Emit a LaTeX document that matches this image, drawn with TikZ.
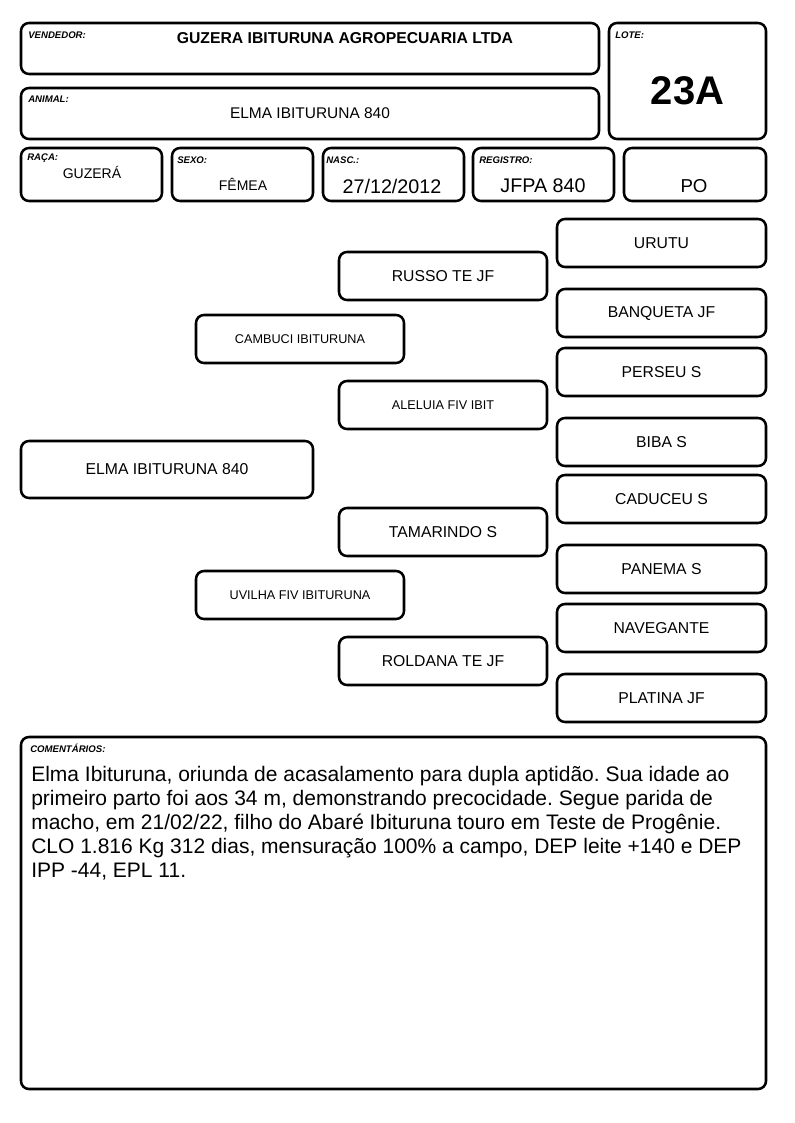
\documentclass[tikz,border=0pt]{standalone}
\usepackage{fontspec}
\setmainfont{Liberation Sans}
\frenchspacing
\newcommand{\mybox}[6]{\node[#1, minimum width={(#4-#2)*0.75pt}, minimum height={(#5-#3)*0.75pt}] (#6) at ({(#2+#4)/2},{(#3+#5)/2})}
\tikzset{
  frame/.style={draw, line width=1.9pt, rounded corners=6pt, inner sep=0pt},
  lbl/.style={anchor=west, inner sep=0pt, font=\fontsize{7.2}{8}\selectfont\bfseries\itshape},
  ped/.style={frame, font=\fontsize{11.8}{14}\selectfont},
  peds/.style={frame, font=\fontsize{9.5}{11}\selectfont},
  val/.style={inner sep=0pt},
  cline/.style={anchor=base west, inner sep=0pt, font=\fontsize{15.75}{18}\selectfont}
}
\begin{document}
\begin{tikzpicture}[x=0.75pt,y=-0.75pt]
\useasboundingbox (0,0) rectangle (794,1123);
% header
\mybox{frame}{21}{23}{599}{74}{vend}{};
\node[lbl] (vendl) at (28,35) {VENDEDOR:};
\node[val, font=\fontsize{11.8}{13}\selectfont\bfseries] (vendv) at (345,38) {GUZERA IBITURUNA AGROPECUARIA LTDA};
\mybox{frame}{21}{88}{599}{139}{anim}{};
\node[lbl] (animl) at (28,99) {ANIMAL:};
\node[val, font=\fontsize{11.6}{14}\selectfont] (animv) at (310,113) {ELMA IBITURUNA 840};
\mybox{frame}{609}{23}{766}{139}{lote}{};
\node[lbl] (lotel) at (615,35) {LOTE:};
\node[val, font=\fontsize{30}{34}\selectfont\bfseries] (lotev) at (687.5,91) {23A};
% row 3
\mybox{frame}{21}{148}{162}{201}{raca}{};
\node[lbl] (racal) at (27,158) {RAÇA:};
\node[val, font=\fontsize{10.5}{12}\selectfont] (racav) at (92,172) {GUZERÁ};
\mybox{frame}{172}{148}{313}{201}{sexo}{};
\node[lbl] (sexol) at (177,160) {SEXO:};
\node[val, font=\fontsize{10.5}{12}\selectfont] (sexov) at (243,184) {FÊMEA};
\mybox{frame}{323}{148}{464}{201}{nasc}{};
\node[lbl] (nascl) at (326,160) {NASC.:};
\node[val, font=\fontsize{14.8}{16}\selectfont] (nascv) at (392,186) {27/12/2012};
\mybox{frame}{473}{148}{614}{201}{reg}{};
\node[lbl] (regl) at (479,160) {REGISTRO:};
\node[val, font=\fontsize{14.8}{16}\selectfont] (regv) at (543,186) {JFPA 840};
\mybox{frame}{624}{148}{766}{201}{po}{};
\node[val, font=\fontsize{14}{16}\selectfont] (pov) at (694,186) {PO};
% pedigree
\mybox{ped}{557}{219}{766}{267}{urutu}{URUTU};
\mybox{ped}{339}{252}{547}{300}{russo}{RUSSO TE JF};
\mybox{ped}{557}{289}{766}{337}{banq}{BANQUETA JF};
\mybox{peds}{196}{315}{404}{363}{camb}{CAMBUCI IBITURUNA};
\mybox{ped}{557}{348}{766}{396}{perseu}{PERSEU S};
\mybox{peds}{339}{381}{547}{429}{aleluia}{ALELUIA FIV IBIT};
\mybox{ped}{557}{418}{766}{466}{biba}{BIBA S};
\mybox{ped}{21}{441}{313}{498}{elma}{ELMA IBITURUNA 840};
\mybox{ped}{557}{475}{766}{523}{caduceu}{CADUCEU S};
\mybox{ped}{339}{508}{547}{556}{tamar}{TAMARINDO S};
\mybox{ped}{557}{545}{766}{593}{panema}{PANEMA S};
\mybox{peds}{196}{571}{404}{619}{uvilha}{UVILHA FIV IBITURUNA};
\mybox{ped}{557}{604}{766}{652}{naveg}{NAVEGANTE};
\mybox{ped}{339}{637}{547}{685}{roldana}{ROLDANA TE JF};
\mybox{ped}{557}{674}{766}{722}{platina}{PLATINA JF};
% comments
\mybox{frame}{21}{737}{766}{1089}{coment}{};
\node[lbl] (comentl) at (30,748) {COMENTÁRIOS:};
\node[cline] (c1) at (31,781) {Elma Ibituruna, oriunda de acasalamento para dupla aptidão. Sua idade ao};
\node[cline] (c2) at (31,805) {primeiro parto foi aos 34 m, demonstrando precocidade. Segue parida de};
\node[cline] (c3) at (31,829) {macho, em 21/02/22, filho do Abaré Ibituruna touro em Teste de Progênie.};
\node[cline] (c4) at (31,853) {CLO 1.816 Kg 312 dias, mensuração 100\% a campo, DEP leite +140 e DEP};
\node[cline] (c5) at (31,877) {IPP -44, EPL 11.};
\end{tikzpicture}
\end{document}
